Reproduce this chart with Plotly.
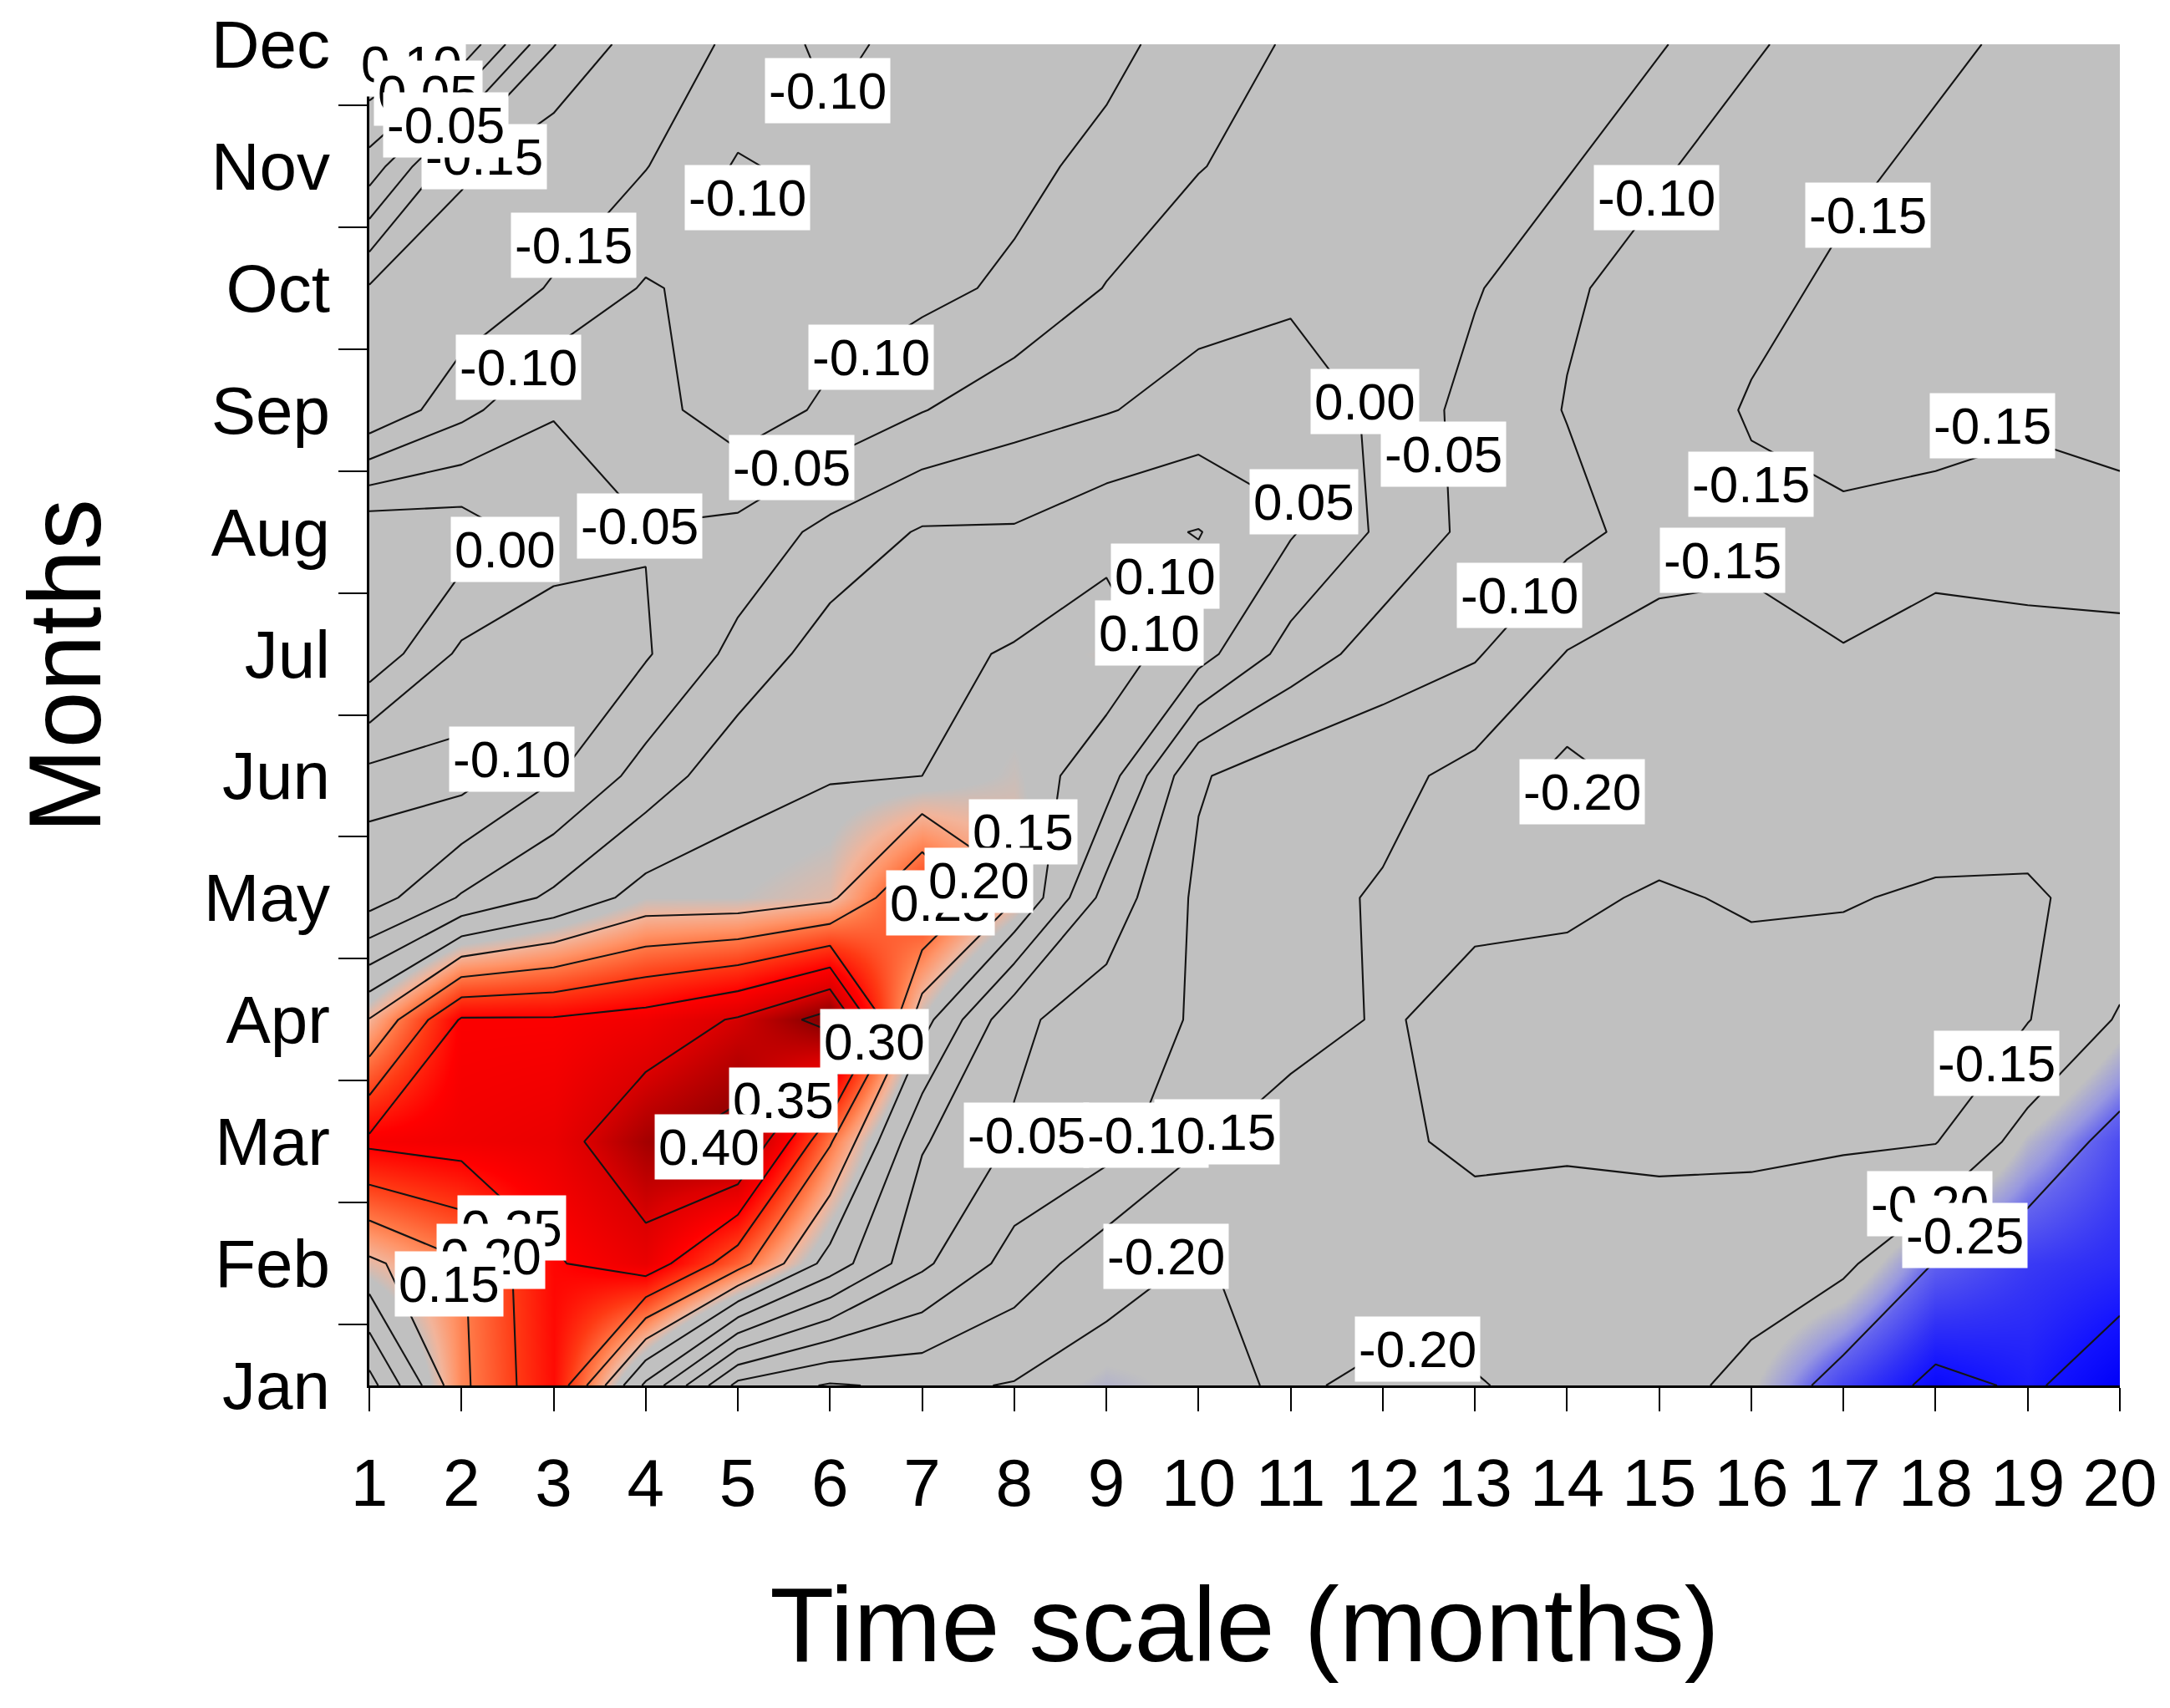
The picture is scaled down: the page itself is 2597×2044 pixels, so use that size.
import plotly.graph_objects as go

# Axes
time_scale = [1, 2, 3, 4, 5, 6, 7, 8, 9, 10, 11, 12, 13, 14, 15, 16, 17, 18, 19, 20]
month_pos = [1, 2, 3, 4, 5, 6, 7, 8, 9, 10, 11, 12]
month_names = ["Jan", "Feb", "Mar", "Apr", "May", "Jun", "Jul", "Aug", "Sep", "Oct", "Nov", "Dec"]

# Correlation values, one row per month (time scale 1..20)
jan = [-0.02, 0.19, 0.29, 0.04, -0.165, -0.205, -0.19, -0.203, -0.222, -0.21,
       -0.195, -0.208, -0.203, -0.185, -0.185, -0.212, -0.27, -0.31, -0.295, -0.32]
feb = [0.14, 0.195, 0.295, 0.33, 0.22, 0.08, -0.04, -0.12, -0.18, -0.204,
       -0.18, -0.18, -0.175, -0.17, -0.175, -0.18, -0.19, -0.252, -0.275, -0.285]
mar = [0.31, 0.32, 0.33, 0.39, 0.42, 0.205, 0.005, -0.055, -0.08, -0.145,
       -0.175, -0.16, -0.14, -0.145, -0.14, -0.14, -0.145, -0.148, -0.22, -0.265]
apr = [0.152, 0.305, 0.305, 0.32, 0.355, 0.42, 0.12, -0.04, -0.075, -0.105,
       -0.13, -0.155, -0.135, -0.13, -0.13, -0.13, -0.135, -0.14, -0.148, -0.205]
may = [-0.075, 0.005, 0.06, 0.12, 0.12, 0.14, 0.26, 0.155, -0.02, -0.11,
       -0.135, -0.155, -0.16, -0.158, -0.145, -0.155, -0.152, -0.146, -0.145, -0.165]
jun = [-0.115, -0.12, -0.055, 0.02, 0.085, 0.097, 0.10, 0.125, 0.075, -0.095,
       -0.13, -0.135, -0.165, -0.215, -0.18, -0.175, -0.175, -0.17, -0.17, -0.165]
jul = [0.035, -0.06, -0.075, -0.055, 0.015, 0.075, 0.085, 0.105, 0.125, 0.07,
       -0.02, -0.075, -0.095, -0.152, -0.175, -0.17, -0.151, -0.16, -0.16, -0.155]
aug = [0.04, 0.03, -0.03, -0.048, -0.035, 0.015, 0.055, 0.055, 0.085, 0.102,
       0.055, -0.01, -0.065, -0.085, -0.12, -0.135, -0.14, -0.14, -0.135, -0.14]
sep = [-0.195, -0.115, -0.052, -0.08, -0.13, -0.09, -0.052, -0.02, -0.003, 0.02,
       0.03, -0.01, -0.07, -0.102, -0.12, -0.155, -0.17, -0.16, -0.155, -0.16]
oct_ = [-0.155, -0.19, -0.145, -0.095, -0.12, -0.125, -0.115, -0.09, -0.048, -0.02,
        -0.01, -0.01, -0.045, -0.095, -0.115, -0.135, -0.16, -0.17, -0.175, -0.18]
nov = [0.03, -0.14, -0.19, -0.152, -0.095, -0.115, -0.12, -0.115, -0.085, -0.052,
       -0.03, -0.015, -0.02, -0.045, -0.095, -0.12, -0.14, -0.16, -0.17, -0.175]
dec = [0.16, 0.09, -0.098, -0.18, -0.14, -0.085, -0.12, -0.12, -0.115, -0.075,
       -0.045, -0.02, -0.015, -0.03, -0.045, -0.095, -0.12, -0.14, -0.16, -0.17]

z = [jan, feb, mar, apr, may, jun, jul, aug, sep, oct_, nov, dec]

# Contour labels as printed on the map (later entries sit on top)
label_text = ["0.10", "0.05", "-0.15", "-0.05",
              "-0.10", "-0.10", "-0.15", "-0.10", "-0.10",
              "-0.05", "-0.05", "0.00",
              "0.00", "-0.05", "0.05", "0.10", "0.10",
              "-0.10", "-0.15", "-0.15", "-0.15", "-0.15", "-0.10", "-0.20",
              "-0.10", "0.15", "0.25", "0.20",
              "0.30", "0.35", "0.40",
              "0.25", "0.20", "0.15",
              "-0.15", "-0.10", "-0.05", "-0.20", "-0.20",
              "-0.15", "-0.20", "-0.25"]
label_t = [1.46, 1.64, 2.25, 1.83,
           5.97, 5.10, 3.22, 6.45, 2.62,
           5.58, 3.93, 2.47,
           11.81, 12.66, 11.14, 9.64, 9.47,
           14.97, 17.27, 18.62, 16.0, 15.69, 13.48, 14.16,
           2.55, 8.10, 7.20, 7.62,
           6.48, 5.49, 4.69,
           2.55, 2.32, 1.87,
           10.20, 9.43, 8.13, 9.65, 12.38,
           18.66, 17.94, 18.32]
label_m = [11.84, 11.60, 11.08, 11.34,
           11.62, 10.74, 10.35, 9.43, 9.35,
           8.53, 8.05, 7.86,
           9.07, 8.64, 8.25, 7.64, 7.17,
           10.74, 10.60, 8.87, 8.39, 7.77, 7.48, 5.87,
           6.14, 5.54, 4.96, 5.14,
           3.82, 3.34, 2.96,
           2.29, 2.06, 1.83,
           3.08, 3.05, 3.05, 2.06, 1.30,
           3.64, 2.49, 2.23]

colorscale = [
    [0.0, "#0000f0"], [0.0375, "#0000f8"], [0.0625, "#1414ff"], [0.0875, "#3232f6"],
    [0.125, "#6464ee"], [0.14375, "#9898e0"], [0.16875, "#c0c0c0"], [0.5875, "#c0c0c0"],
    [0.625, "#f2b49a"], [0.6625, "#ff9468"], [0.6875, "#ff7a48"], [0.75, "#ff3a14"],
    [0.8125, "#ff0000"], [0.875, "#dc0000"], [0.9375, "#960000"], [1.0, "#5a0000"],
]

font_family = "Liberation Sans, Arial, sans-serif"

# page body adds an 8px offset; margins compensate for it
m_l, m_r, m_t, m_b = 434, 68, 45, 394
plot_w = 2597 - m_l - m_r
plot_h = 2044 - m_t - m_b

fig = go.Figure()

fig.add_trace(go.Heatmap(
    x=time_scale, y=month_pos, z=z,
    zsmooth="best", colorscale=colorscale, zmin=-0.35, zmax=0.45,
    showscale=False, hoverinfo="skip",
))

fig.add_trace(go.Contour(
    x=time_scale, y=month_pos, z=z,
    contours=dict(start=-0.35, end=0.45, size=0.05, coloring="none"),
    line=dict(color="#141414", width=2.1, smoothing=0),
    showscale=False, hoverinfo="skip",
))

for txt, tx, my in zip(label_text, label_t, label_m):
    fig.add_annotation(
        x=tx, y=my, xref="x", yref="y", text=txt, showarrow=False,
        font=dict(family=font_family, size=62, color="black"),
        bgcolor="white", borderpad=4,
    )

# y-axis title placed a little above the plot centre, as in the source
fig.add_annotation(
    x=(70 - m_l) / plot_w, y=(2044 - m_b - 789) / plot_h,
    xref="paper", yref="paper", xanchor="center", yanchor="middle",
    text="Months", textangle=-90, showarrow=False,
    font=dict(family=font_family, size=122, color="black"),
)

fig.update_layout(
    width=2597, height=2044,
    margin=dict(l=m_l, r=m_r, t=m_t, b=m_b, autoexpand=False),
    paper_bgcolor="white", plot_bgcolor="#c0c0c0",
    showlegend=False,
    font=dict(family=font_family, color="black"),
)

fig.update_xaxes(
    range=[1, 20], tickvals=time_scale, ticktext=[str(v) for v in time_scale],
    ticks="outside", ticklen=28, tickwidth=2, tickcolor="black",
    showline=True, linecolor="black", linewidth=3, mirror=False,
    showgrid=False, zeroline=False, automargin=False,
    tickfont=dict(size=80), ticklabelstandoff=17,
    title=dict(text="Time scale (months)", font=dict(size=126), standoff=82),
)

fig.update_yaxes(
    range=[1, 12], tickvals=month_pos, ticktext=month_names,
    ticks="", showline=True, linecolor="black", linewidth=3, mirror=False,
    showgrid=False, zeroline=False, automargin=False,
    minor=dict(tickvals=[1.5, 2.5, 3.5, 4.5, 5.5, 6.5, 7.5, 8.5, 9.5, 10.5, 11.5],
               ticks="outside", ticklen=34, tickwidth=2, tickcolor="black"),
    tickfont=dict(size=80), ticklabelstandoff=28,
)

fig.write_html("out.html")
